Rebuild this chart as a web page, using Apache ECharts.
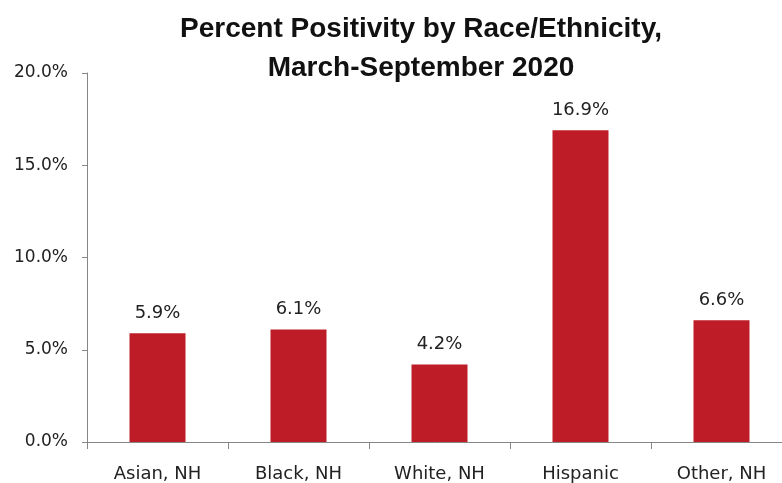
<!DOCTYPE html>
<html>
<head>
<meta charset="utf-8">
<script src="https://cdn.jsdelivr.net/npm/echarts@6/dist/echarts.min.js"></script>
<style>html,body{margin:0;padding:0;background:#fff}#c{width:782px;height:483px}</style>
</head>
<body>
<div id="c"></div>
<script>
const categories = ["Asian, NH", "Black, NH", "White, NH", "Hispanic", "Other, NH"];
const positivity = [5.9, 6.1, 4.2, 16.9, 6.6];
const titleLines = ["Percent Positivity by Race/Ethnicity,", "March-September 2020"];

const chart = echarts.init(document.getElementById('c'));
chart.setOption({
  backgroundColor: '#ffffff',
  animation: false,
  title: {
    text: titleLines.join('\n'),
    left: 416,
    top: 5,
    textAlign: 'center',
    textStyle: {
      fontFamily: 'Liberation Sans',
      fontWeight: 'bold',
      fontSize: 28,
      lineHeight: 39,
      color: '#111'
    }
  },
  grid: { left: 87, width: 705, top: 73, bottom: 41, containLabel: false, outerBoundsMode: 'none' },
  xAxis: {
    type: 'category',
    data: categories,
    axisLine: { lineStyle: { color: '#868686', width: 1 } },
    axisTick: { show: true, length: 7, lineStyle: { color: '#868686' } },
    axisLabel: { fontFamily: 'DejaVu Sans', fontSize: 18, color: '#222', margin: 23 }
  },
  yAxis: {
    type: 'value',
    min: 0, max: 20, interval: 5,
    splitLine: { show: false },
    axisLine: { show: true, lineStyle: { color: '#868686', width: 1 } },
    axisTick: { show: true, length: 5, lineStyle: { color: '#868686' } },
    axisLabel: {
      fontFamily: 'DejaVu Sans', fontSize: 17, color: '#222', margin: 19,
      formatter: v => v.toFixed(1) + '%'
    }
  },
  series: [{
    type: 'bar',
    data: positivity,
    barWidth: 56,
    itemStyle: { color: '#BE1C26' },
    label: {
      show: true, position: 'top', distance: 11,
      fontFamily: 'DejaVu Sans', fontSize: 18, color: '#222',
      formatter: p => p.value.toFixed(1) + '%'
    }
  }]
});
</script>
</body>
</html>
